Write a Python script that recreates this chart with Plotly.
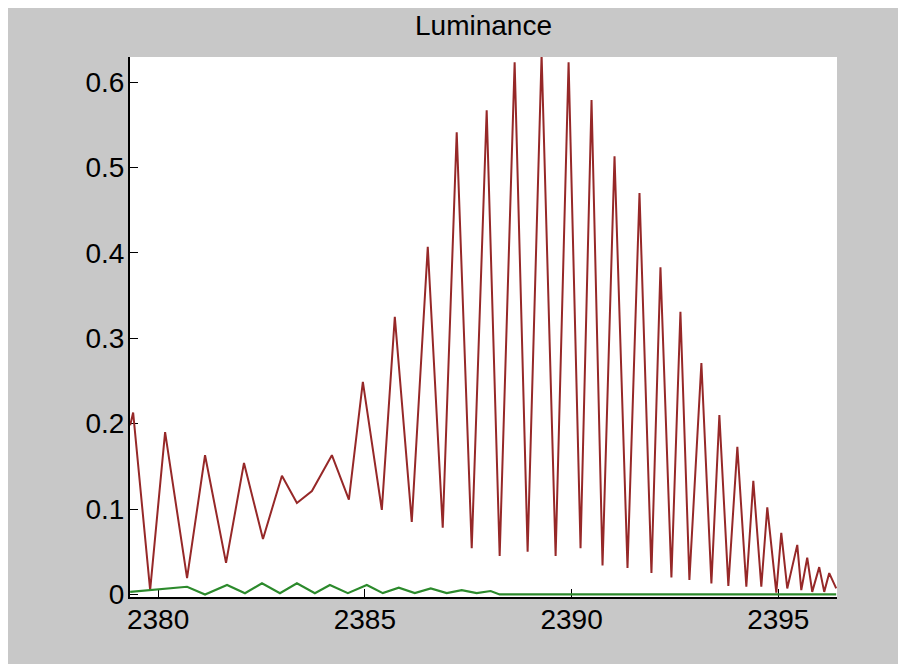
import plotly.graph_objects as go

# red series: peaks/troughs
red_x = [2379.324, 2379.396, 2379.807, 2380.169, 2380.700, 2381.135, 2381.643, 2382.077,
         2382.536, 2382.995, 2383.357, 2383.720, 2384.203, 2384.614, 2384.952, 2385.411,
         2385.725, 2386.135, 2386.522, 2386.884, 2387.222, 2387.585, 2387.947, 2388.261,
         2388.623, 2388.937, 2389.275, 2389.614, 2389.928, 2390.217, 2390.483, 2390.749,
         2391.039, 2391.353, 2391.643, 2391.932, 2392.150, 2392.415, 2392.633, 2392.850,
         2393.140, 2393.382, 2393.575, 2393.792, 2394.010, 2394.227, 2394.396, 2394.589,
         2394.734, 2394.952, 2395.072, 2395.217, 2395.459, 2395.556, 2395.700, 2395.821,
         2395.990, 2396.111, 2396.232, 2396.401]
red_y = [0.198, 0.213, 0.005, 0.190, 0.019, 0.163, 0.037, 0.154,
         0.065, 0.139, 0.107, 0.121, 0.163, 0.111, 0.249, 0.099,
         0.325, 0.085, 0.407, 0.078, 0.541, 0.054, 0.567, 0.045,
         0.623, 0.050, 0.632, 0.045, 0.623, 0.054, 0.579, 0.034,
         0.513, 0.031, 0.470, 0.025, 0.383, 0.020, 0.331, 0.017,
         0.271, 0.013, 0.210, 0.010, 0.173, 0.009, 0.133, 0.009,
         0.102, 0.002, 0.072, 0.007, 0.058, 0.005, 0.043, 0.003,
         0.032, 0.003, 0.025, 0.007]

# green series (small, near zero)
green_x = [2379.324, 2380.700, 2381.135, 2381.667, 2382.101, 2382.512, 2382.947, 2383.357,
           2383.792, 2384.155, 2384.589, 2385.048, 2385.435, 2385.821, 2386.208, 2386.594,
           2386.981, 2387.343, 2387.705, 2388.043, 2388.260, 2396.400]
green_y = [0.003, 0.009, 0.0, 0.011, 0.0015, 0.013, 0.0015, 0.013,
           0.0015, 0.011, 0.0015, 0.011, 0.0015, 0.008, 0.0015, 0.007,
           0.0015, 0.005, 0.0015, 0.004, 0.0, 0.0]

x_ticks = [2380, 2385, 2390, 2395]
y_ticks = [0, 0.1, 0.2, 0.3, 0.4, 0.5, 0.6]
y_ticktext = ['0', '0.1', '0.2', '0.3', '0.4', '0.5', '0.6']

fig = go.Figure()
fig.add_trace(go.Scatter(x=red_x, y=red_y, mode='lines',
                         line=dict(color='#962828', width=2)))
fig.add_trace(go.Scatter(x=green_x, y=green_y, mode='lines',
                         line=dict(color='#2c8a2c', width=2.2)))

font = dict(family='Liberation Sans, Arial, sans-serif', size=28, color='black')

# the page body adds an 8px white margin at top/left, so the figure is 898x656
fig.update_layout(
    width=898, height=656,
    margin=dict(l=122, r=69, t=49, b=67),
    paper_bgcolor='#c8c8c8',
    plot_bgcolor='white',
    showlegend=False,
    font=font,
    title=dict(text='Luminance', x=0.5, xref='paper', xanchor='center',
               y=1 - 17 / 656, yref='container', yanchor='middle', font=font),
    xaxis=dict(range=[2379.32, 2396.42], tickvals=x_ticks, ticks='inside', ticklen=8,
               tickcolor='black', showline=True, linecolor='black', linewidth=2,
               showgrid=False, zeroline=False, layer='below traces',
               ticklabelstandoff=-4),
    yaxis=dict(range=[-0.003, 0.6293], tickvals=y_ticks, ticktext=y_ticktext,
               ticks='inside', ticklen=8, tickcolor='black', showline=True,
               linecolor='black', linewidth=2, showgrid=False, zeroline=False,
               layer='below traces', ticklabelstandoff=-2),
)

fig.write_html("out.html")
